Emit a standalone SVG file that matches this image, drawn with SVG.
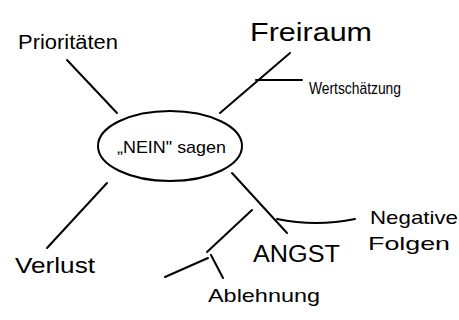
<svg xmlns="http://www.w3.org/2000/svg" width="459" height="320" viewBox="0 0 459 320">
<style>
.t{font-family:"Liberation Sans",Arial,sans-serif;fill:#000}
.l{fill:none;stroke:#000;stroke-width:2;stroke-linecap:round}
</style>
<rect width="459" height="320" fill="#fff"/>
<g id="connectors">
<path class="l" d="M67,60 L117,113"/>
<path class="l" d="M220,113 L290,53"/>
<path class="l" d="M256,80 L302,80"/>
<path class="l" d="M107,183 L47,248"/>
<path class="l" d="M232,173 L287,233"/>
<path class="l" d="M277,219 Q316,227 355,219"/>
<path class="l" d="M252,210 L207,252"/>
<path class="l" d="M165,277 L208,258"/>
<path class="l" d="M211,255 L223,278"/>
</g>
<g id="center">
<ellipse class="l" cx="170" cy="146" rx="72" ry="35"/>
<text class="t" x="117" y="153" font-size="17" textLength="109" lengthAdjust="spacingAndGlyphs">„NEIN" sagen</text>
</g>
<g id="prioritaeten"><text class="t" x="18" y="49" font-size="20" textLength="100" lengthAdjust="spacingAndGlyphs">Prioritäten</text></g>
<g id="freiraum"><text class="t" x="250" y="41" font-size="25" textLength="122" lengthAdjust="spacingAndGlyphs">Freiraum</text></g>
<g id="wertschaetzung"><text class="t" x="309" y="94" font-size="16" textLength="92" lengthAdjust="spacingAndGlyphs">Wertschätzung</text></g>
<g id="verlust"><text class="t" x="15" y="273" font-size="22" textLength="80" lengthAdjust="spacingAndGlyphs">Verlust</text></g>
<g id="angst"><text class="t" x="253" y="262" font-size="23" textLength="87" lengthAdjust="spacingAndGlyphs">ANGST</text></g>
<g id="negative-folgen"><text class="t" x="370" y="224" font-size="19" textLength="88" lengthAdjust="spacingAndGlyphs">Negative</text><text class="t" x="368" y="250" font-size="19" textLength="82" lengthAdjust="spacingAndGlyphs">Folgen</text></g>
<g id="ablehnung"><text class="t" x="208" y="302" font-size="19" textLength="112" lengthAdjust="spacingAndGlyphs">Ablehnung</text></g>
</svg>
